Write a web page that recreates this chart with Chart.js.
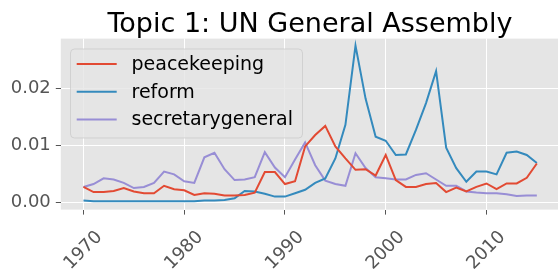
<!DOCTYPE html>
<html>
<head>
<meta charset="utf-8">
<script src="https://cdn.jsdelivr.net/npm/chart.js@4.4.0/dist/chart.umd.min.js"></script>
<style>
    body { margin: 0; background: #fff; }
    #wrap { width: 558px; height: 270px; }
</style>
</head>
<body>
<div id="wrap"><canvas id="topicChart" width="558" height="270"></canvas></div>
<script>
const years = [];
for (let y = 1970; y <= 2015; y++) years.push(y);

const peacekeeping = [
    0.0027, 0.0018, 0.0018, 0.0020, 0.0025, 0.0019, 0.0016, 0.0016, 0.0029, 0.0023,
    0.0021, 0.0013, 0.0016, 0.0015, 0.0012, 0.0012, 0.0013, 0.0017, 0.0053, 0.0053,
    0.0032, 0.0037, 0.0098, 0.0118, 0.0134, 0.0098, 0.0077, 0.0057, 0.0058, 0.0047,
    0.0083, 0.0039, 0.0027, 0.0027, 0.0032, 0.0034, 0.0018, 0.0026, 0.0019, 0.0027,
    0.0033, 0.0023, 0.0033, 0.0033, 0.0043, 0.0068
];
const reform = [
    0.0003, 0.0002, 0.0002, 0.0002, 0.0002, 0.0002, 0.0002, 0.0002, 0.0002, 0.0002,
    0.0002, 0.0002, 0.0003, 0.0003, 0.0004, 0.0007, 0.0020, 0.0019, 0.0015, 0.0010,
    0.0010, 0.0016, 0.0022, 0.0034, 0.0042, 0.0077, 0.0136, 0.0275, 0.0182, 0.0115,
    0.0108, 0.0083, 0.0084, 0.0127, 0.0174, 0.0230, 0.0096, 0.0060, 0.0036, 0.0054,
    0.0054, 0.0049, 0.0087, 0.0089, 0.0083, 0.0069
];
const secretarygeneral = [
    0.0027, 0.0032, 0.0042, 0.0040, 0.0034, 0.0025, 0.0027, 0.0034, 0.0054, 0.0049,
    0.0037, 0.0034, 0.0079, 0.0087, 0.0058, 0.0039, 0.0040, 0.0044, 0.0088, 0.0061,
    0.0044, 0.0075, 0.0105, 0.0065, 0.0038, 0.0032, 0.0029, 0.0086, 0.0060, 0.0044,
    0.0042, 0.0040, 0.0040, 0.0048, 0.0051, 0.0040, 0.0029, 0.0029, 0.0019, 0.0017,
    0.0016, 0.0016, 0.0014, 0.0011, 0.0012, 0.0012
];

const xTicks = [1970, 1980, 1990, 2000, 2010];
const yTicks = [0, 0.01, 0.02];
const titleText = 'Topic 1: UN General Assembly';

const FONT = "'DejaVu Sans', sans-serif";

function toPoints(values) {
    return values.map((v, i) => ({ x: years[i], y: v }));
}

// grey panel behind the lines + title centred over the panel
const panelBg = {
    id: 'panelBg',
    beforeDraw(chart) {
        const a = chart.chartArea;
        const ctx = chart.ctx;
        ctx.save();
        ctx.fillStyle = '#E5E5E5';
        ctx.fillRect(a.left, a.top, a.right - a.left, a.bottom - a.top);
        ctx.fillStyle = '#000';
        ctx.font = '27px ' + FONT;
        ctx.textAlign = 'center';
        ctx.textBaseline = 'alphabetic';
        ctx.fillText(titleText, (a.left + 559) / 2, 31.7);
        ctx.restore();
    }
};

// matplotlib style legend in the upper left corner
const innerLegend = {
    id: 'innerLegend',
    afterDatasetsDraw(chart) {
        const ctx = chart.ctx;
        const x0 = 70.5, y0 = 49, w = 232, h = 89;
        ctx.save();
        ctx.beginPath();
        ctx.roundRect(x0, y0, w, h, 4);
        ctx.fillStyle = 'rgba(229,229,229,0.8)';
        ctx.fill();
        ctx.strokeStyle = 'rgba(204,204,204,0.8)';
        ctx.lineWidth = 1;
        ctx.stroke();
        ctx.font = '19px ' + FONT;
        ctx.textBaseline = 'middle';
        ctx.fillStyle = '#000';
        chart.data.datasets.forEach((ds, i) => {
            const cy = 64 + i * 27.7;
            ctx.beginPath();
            ctx.moveTo(76.7, cy);
            ctx.lineTo(116.7, cy);
            ctx.strokeStyle = ds.borderColor;
            ctx.lineWidth = 2;
            ctx.stroke();
            ctx.fillText(ds.label, 131.5, cy + 1);
        });
        ctx.restore();
    }
};

new Chart(document.getElementById('topicChart'), {
    type: 'line',
    data: {
        datasets: [
            { label: 'peacekeeping', data: toPoints(peacekeeping), borderColor: '#E24A33' },
            { label: 'reform', data: toPoints(reform), borderColor: '#348ABD' },
            { label: 'secretarygeneral', data: toPoints(secretarygeneral), borderColor: '#988ED5' }
        ]
    },
    options: {
        responsive: false,
        animation: false,
        devicePixelRatio: 1,
        layout: { padding: { top: 38.6, left: 0, right: 0, bottom: 0 } },
        elements: {
            point: { radius: 0 },
            line: { borderWidth: 2, tension: 0 }
        },
        plugins: {
            legend: { display: false },
            tooltip: { enabled: false },
            title: { display: false }
        },
        scales: {
            x: {
                type: 'linear',
                min: 1967.75,
                max: 2017.1,
                afterBuildTicks: s => { s.ticks = xTicks.map(v => ({ value: v })); },
                afterFit: s => { s.height = 60.4; },
                grid: { color: '#fff', lineWidth: 1, tickColor: '#555', tickLength: 5 },
                border: { display: false },
                ticks: {
                    autoSkip: false,
                    minRotation: 45,
                    maxRotation: 45,
                    labelOffset: 16,
                    padding: 12,
                    color: '#555',
                    font: { family: FONT, size: 18 },
                    callback: v => String(v)
                }
            },
            y: {
                min: -0.00128,
                max: 0.02872,
                afterBuildTicks: s => { s.ticks = yTicks.map(v => ({ value: v })); },
                afterFit: s => { s.width = 60.8; },
                grid: { color: '#fff', lineWidth: 1, tickColor: '#555', tickLength: 5 },
                border: { display: false },
                ticks: {
                    padding: 5,
                    color: '#555',
                    font: { family: FONT, size: 18 },
                    callback: v => v.toFixed(2)
                }
            }
        }
    },
    plugins: [panelBg, innerLegend]
});
</script>
</body>
</html>
